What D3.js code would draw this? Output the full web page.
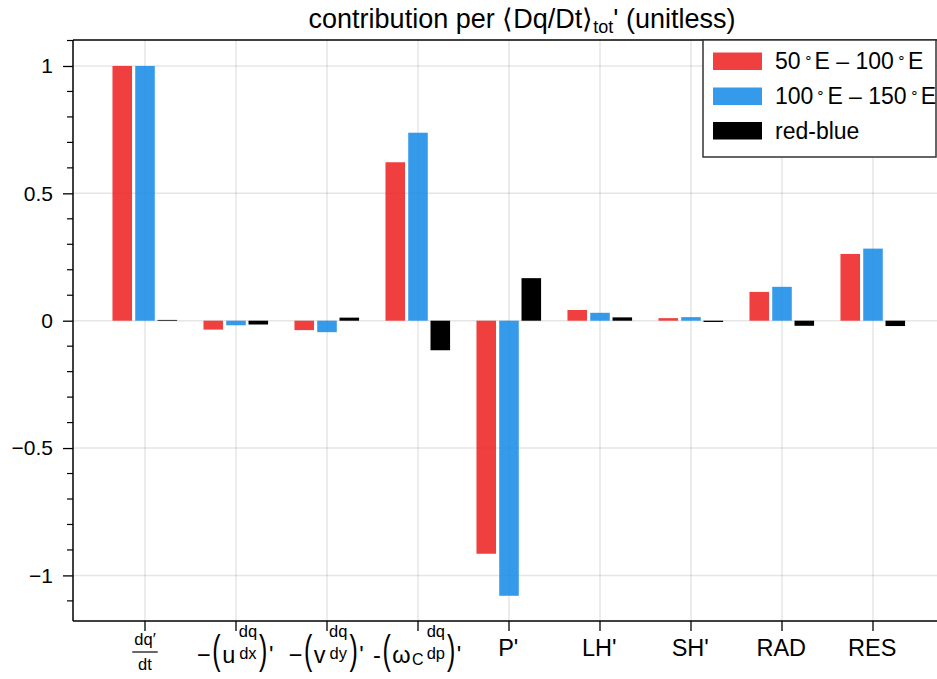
<!DOCTYPE html>
<html><head><meta charset="utf-8">
<script src="https://cdn.jsdelivr.net/npm/d3@7"></script>
<style>
html,body{margin:0;padding:0;background:#fff;}
svg{display:block;font-family:"Liberation Sans",Arial,sans-serif;}
</style></head>
<body>
<svg id="chart" width="937" height="679"></svg>
<script>
// ---------- data ----------
const categories = ["dq'/dt", "-(u dq/dx)'", "-(v dq/dy)'", "-(ωC dq/dp)'", "P'", "LH'", "SH'", "RAD", "RES"];
const seriesNames = ["50°E – 100°E", "100°E – 150°E", "red-blue"];
const redValues  = [1.0, -0.035, -0.037, 0.622, -0.915, 0.042, 0.010, 0.113, 0.262];
const blueValues = [1.0, -0.018, -0.045, 0.738, -1.080, 0.031, 0.014, 0.133, 0.283];
const diffValues = [0.003, -0.015, 0.012, -0.116, 0.167, 0.013, -0.005, -0.020, -0.021];
const yTickValues = [-1, -0.5, 0, 0.5, 1];
const yTickLabels = ["−1", "−0.5", "0", "0.5", "1"];
// rich-text pieces for x tick labels
const xLabelPieces = [
  [{frac:["dq′","dt"], bar:true}],
  [{t:"−"},{p:"("},{t:"u"},{frac:["dq","dx"]},{p:")"},{t:"'"}],
  [{t:"−"},{p:"("},{t:"v"},{frac:["dq","dy"]},{p:")"},{t:"'"}],
  [{t:"-"},{p:"("},{t:"ω"},{s:"C"},{frac:["dq","dp"]},{p:")"},{t:"'"}]
].concat(categories.slice(4).map(c => [{t:c}]));

const colors = ["#ee2424", "#1a8ce8", "#000000"];
const opac = [0.88, 0.88, 1];

// ---------- layout ----------
const svg = d3.select("#chart");
const L = 73, R = 937, T = 40, B = 621;
const x = d3.scaleLinear().domain([1, 9]).range([145, 873]);
const y = d3.scaleLinear().domain([-1.179, 1.102]).range([B, T]);
const FSY = 21, FSX = 23.5, FSL = 23;

// grid
const grid = svg.append("g");
grid.selectAll("line.v").data(d3.range(1, 10)).join("line")
  .attr("x1", d => x(d)).attr("x2", d => x(d)).attr("y1", T).attr("y2", B)
  .attr("stroke", "#000").attr("stroke-opacity", 0.1).attr("stroke-width", 1.5);
grid.selectAll("line.h").data(yTickValues).join("line")
  .attr("x1", L).attr("x2", R).attr("y1", d => y(d)).attr("y2", d => y(d))
  .attr("stroke", "#000").attr("stroke-opacity", 0.1).attr("stroke-width", 1.5);

// bars
const barW = 0.215, offs = [-0.25, 0, 0.245];
const allSeries = [redValues, blueValues, diffValues];
allSeries.forEach((vals, si) => {
  svg.append("g").selectAll("rect").data(vals).join("rect")
    .attr("x", (d, i) => x(i + 1 + offs[si] - barW / 2))
    .attr("width", x(1 + barW) - x(1))
    .attr("y", d => y(Math.max(0, d)))
    .attr("height", d => Math.abs(y(d) - y(0)))
    .attr("fill", colors[si]).attr("fill-opacity", opac[si]);
});

// axes (spines)
const ax = svg.append("g").attr("stroke", "#000").attr("stroke-width", 1.5);
ax.append("line").attr("x1", L).attr("x2", L).attr("y1", T).attr("y2", B);
ax.append("line").attr("x1", L).attr("x2", R).attr("y1", B).attr("y2", B);
ax.append("line").attr("x1", L).attr("x2", R).attr("y1", T).attr("y2", T);

// y ticks
const yAxis = d3.axisLeft(y).tickValues(yTickValues).tickSize(10).tickPadding(10)
  .tickFormat((d, i) => yTickLabels[i]);
const gy = svg.append("g").attr("transform", `translate(${L},0)`).call(yAxis);
gy.select(".domain").remove();
gy.selectAll(".tick line").attr("stroke-width", 1.3);
gy.selectAll(".tick text").attr("font-size", FSY).attr("font-family", "Liberation Sans, Arial, sans-serif").attr("fill", "#000");
const minor = d3.range(-11, 12).map(v => v / 10).filter(v => Math.abs(v * 2 - Math.round(v * 2)) > 1e-6);
svg.append("g").selectAll("line").data(minor).join("line")
  .attr("x1", L - 6).attr("x2", L).attr("y1", d => y(d)).attr("y2", d => y(d))
  .attr("stroke", "#000").attr("stroke-width", 1.2);

// x ticks
svg.append("g").selectAll("line").data(d3.range(1, 10)).join("line")
  .attr("x1", d => x(d)).attr("x2", d => x(d)).attr("y1", B).attr("y2", B + 10)
  .attr("stroke", "#000").attr("stroke-width", 1.3);

// x rich labels
xLabelPieces.forEach((pieces, i) => {
  const g = svg.append("g");
  let cx = 0;
  const simple = pieces.length === 1 && pieces[0].t !== undefined;
  pieces.forEach(pc => {
    if (pc.t !== undefined) {
      const t = g.append("text").attr("x", cx).attr("y", simple ? 656 : 663).attr("font-size", FSX).text(pc.t);
      cx += t.node().getComputedTextLength() + 1.5;
    } else if (pc.s !== undefined) {
      const t = g.append("text").attr("x", cx).attr("y", 665).attr("font-size", 16).text(pc.s);
      cx += t.node().getComputedTextLength() + 1;
    } else if (pc.p !== undefined) {
      const t = g.append("text").attr("x", 0).attr("y", 0)
        .attr("font-size", 25)
        .attr("transform", `translate(${cx},664) scale(1,1.6)`).text(pc.p);
      cx += t.node().getComputedTextLength() + 1.5;
    } else if (pc.frac) {
      const fs = 16.5;
      const n = g.append("text").attr("font-size", fs).attr("text-anchor", "middle").text(pc.frac[0]);
      const dd = g.append("text").attr("font-size", fs).attr("text-anchor", "middle").text(pc.frac[1]);
      const w = Math.max(n.node().getComputedTextLength(), dd.node().getComputedTextLength());
      const mid = cx + w / 2 + 2;
      if (pc.bar) {
        n.attr("x", mid).attr("y", 645);
        dd.attr("x", mid).attr("y", 670);
        g.append("line").attr("x1", cx).attr("x2", cx + w + 4).attr("y1", 652).attr("y2", 652)
          .attr("stroke", "#000").attr("stroke-width", 1.2);
      } else {
        n.attr("x", mid).attr("y", 637);
        dd.attr("x", mid).attr("y", 659);
      }
      cx += w + 4;
    }
  });
  g.attr("transform", `translate(${x(i + 1) - cx / 2},0)`);
});

// title
const title = svg.append("text").attr("x", 522).attr("y", 28)
  .attr("text-anchor", "middle").attr("font-size", 27);
title.append("tspan").text("contribution per ⟨Dq/Dt⟩");
title.append("tspan").attr("font-size", 18).attr("dy", 5).text("tot");
title.append("tspan").attr("dy", -5).text("' (unitless)");

// legend
const lg = svg.append("g");
lg.append("rect").attr("x", 703).attr("y", 40).attr("width", 233).attr("height", 117)
  .attr("fill", "#fff").attr("stroke", "#333").attr("stroke-width", 1.5);
const legY = [61, 96, 130.5];
seriesNames.forEach((nm, i) => {
  lg.append("rect").attr("x", 713).attr("y", legY[i] - 8.5).attr("width", 49).attr("height", 17.5)
    .attr("fill", colors[i]).attr("fill-opacity", opac[i]);
  const t = lg.append("text").attr("x", 775).attr("y", legY[i] + 8).attr("font-size", FSL);
  if (i < 2) {
    const parts = nm.split("°E");
    t.append("tspan").text(parts[0]);
    t.append("tspan").attr("font-size", 14).attr("dx", 3).attr("dy", -7).text("∘");
    t.append("tspan").attr("dx", 2).attr("dy", 7).text("E" + parts[1].replace("–", " – ").replace(/\s+/g, " "));
    t.append("tspan").attr("font-size", 14).attr("dx", 3).attr("dy", -7).text("∘");
    t.append("tspan").attr("dx", 2).attr("dy", 7).text("E");
  } else {
    t.text(nm);
  }
});
</script>
</body></html>
